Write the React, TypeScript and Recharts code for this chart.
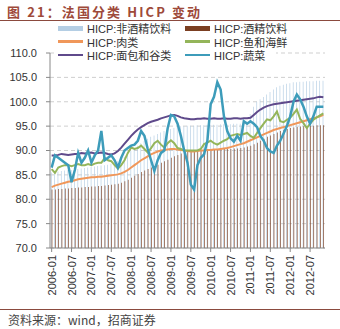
import React from "react";
import { ComposedChart, Bar, Line, XAxis, YAxis, CartesianGrid } from "recharts";

const years = ["2006", "2007", "2008", "2009", "2010", "2011", "2012"];
const monthNames = ["01", "02", "03", "04", "05", "06", "07", "08", "09", "10", "11", "12"];
const categories: string[] = [];
years.forEach((y) => monthNames.forEach((m) => categories.push(`${y}-${m}`)));
categories.splice(83);

const nonAlcoholic = [
  85.5, 85.6, 85.7, 85.8, 85.9, 86, 86, 86.1, 86.2, 86.3, 86.4, 86.5,
  86.6, 86.7, 86.8, 86.9, 87, 87.1, 87.3, 87.5, 87.8, 88.2, 88.7, 89.3,
  89.9, 90.5, 91, 91.5, 92, 92.4, 92.8, 93.1, 93.4, 93.7, 94, 94.2,
  94.4, 94.6, 94.8, 95, 95, 95.1, 95.1, 95.1, 95.2, 95.2, 95.2, 95.3,
  95.3, 95.3, 95.3, 95.4, 95.4, 95.4, 95.4, 95.5, 95.5, 95.5, 95.5, 96,
  97.5, 99, 100, 100.5, 101, 101.5, 102, 102.5, 103, 103.3, 103.5, 103.7,
  103.8, 104, 104, 104.1, 104.1, 104.2, 104.2, 104.2, 104.3, 104.3, 104.3,
];
const alcoholic = [
  82.0, 82.0, 82.1, 82.1, 82.2, 82.2, 82.3, 82.3, 82.4, 82.4, 82.5, 82.5,
  82.6, 82.6, 82.7, 82.7, 82.8, 82.9, 83, 83.1, 83.2, 83.4, 83.7, 84,
  84.4, 84.8, 85.2, 85.6, 85.9, 86.2, 86.5, 86.8, 87.1, 87.5, 87.8, 88.1,
  88.5, 88.8, 89.1, 89.4, 89.6, 89.8, 89.9, 90, 90, 90, 90.1, 90.1,
  90.1, 90.2, 90.2, 90.2, 90.3, 90.3, 90.3, 90.4, 90.4, 90.5, 90.6, 90.8,
  91, 91.3, 91.6, 92, 92.4, 92.8, 93.1, 93.4, 93.7, 94, 94.2, 94.4,
  94.6, 94.7, 94.8, 94.9, 95, 95, 95.1, 95.1, 95.2, 95.2, 95.2,
];
const meat = [
  82.5, 82.8, 83, 83.2, 83.4, 83.6, 83.7, 83.9, 84.1, 84.2, 84.3, 84.4,
  84.5, 84.5, 84.6, 84.6, 84.7, 84.8, 84.9, 85, 85.1, 85.3, 85.6, 86,
  86.5, 87, 87.5, 88, 88.4, 88.8, 89.2, 89.5, 89.8, 90, 90.1, 90.2,
  90.3, 90.3, 90.2, 90.1, 90, 89.9, 89.8, 89.8, 89.9, 90, 90, 90.1,
  90.1, 90.2, 90.2, 90.3, 90.4, 90.5, 90.7, 90.9, 91.1, 91.3, 91.5, 91.8,
  92.1, 92.4, 92.7, 93, 93.3, 93.6, 93.9, 94.2, 94.4, 94.6, 94.8, 95,
  95.2, 95.4, 95.6, 95.8, 96, 96.2, 96.4, 96.6, 96.8, 97, 97.3,
];
const fish = [
  86.2, 85.4, 86.5, 86.8, 87, 87, 86.8, 87, 87.2, 87, 87, 87.2,
  87, 87.3, 87.5, 87.5, 88.5, 88, 87.8, 87, 86.3, 87, 88, 89.5,
  90.6, 90.3, 90.5, 91, 90.3, 89.6, 90.5, 91.5, 92, 91.2, 90.6, 91.5,
  92.1, 91.5, 90.5, 90.3, 90, 90, 90, 90, 90, 90.3, 91.3, 91.6,
  92, 91.5, 91.2, 91.6, 92, 92.3, 93, 93.2, 93.4, 93.2, 93.4, 93.6,
  93, 92.6, 93.6, 94.6, 95.5, 96.4, 96.2, 97, 98, 96, 95.8, 96.3,
  96.7, 97.5, 98.4, 96.5, 95.6, 94.6, 95.5, 96.3, 96.8, 97.2, 97.6,
];
const bread = [
  89, 89, 89.1, 89.3, 89.2, 89.1, 89.2, 89.3, 89.3, 89.5, 89.4, 89.5,
  89.6, 89.4, 89.5, 89.6, 89.5, 89.3, 89.2, 89.4, 89.9, 90.6, 91.4, 92.2,
  93, 93.7, 94.3, 94.8, 95.2, 95.6, 95.9, 96.1, 96.3, 96.6, 96.8, 97,
  97.2, 97.3, 97.1, 96.8, 96.6, 96.5, 96.4, 96.4, 96.5, 96.5, 96.6, 96.5,
  96.5, 96.6, 96.5, 96.5, 96.6, 96.5, 96.5, 96.6, 96.6, 96.5, 96.6, 96.6,
  96.7, 97.3, 97.9, 98.4, 98.8, 99.1, 99.3, 99.5, 99.6, 99.7, 99.8, 99.9,
  100, 100.1, 100.2, 100.3, 100.4, 100.5, 100.6, 100.7, 100.9, 101, 100.9,
];
const vegetables = [
  86.5, 89, 88.5, 88, 87.5, 87, 83.5, 86, 89.5, 87.5, 88.5, 90,
  87.5, 89, 90, 94, 88, 88.5, 89, 88, 86.5, 88.5, 90, 90.5,
  91, 91.2, 92, 94, 93, 90.3, 88, 85.8, 88, 89.5, 90, 94.5,
  97.3, 97, 95.5, 93, 90, 87.5, 83, 82, 87, 88.5, 89.2, 92,
  99.5, 101, 104, 102.5, 97, 94, 92.5, 91.8, 93, 92, 96, 95.5,
  96, 95.5, 94.8, 93, 92, 90.5, 89.8, 89.5, 91, 92, 93.5, 95,
  97, 100, 101.5, 100.5, 99, 97, 95.5, 97, 99, 99, 99,
];
const yTicks = [70, 75, 80, 85, 90, 95, 100, 105, 110];

const data = categories.map((c, i) => ({
  date: c,
  nonAlc: nonAlcoholic[i],
  alc: alcoholic[i],
  meat: meat[i],
  fish: fish[i],
  bread: bread[i],
  veg: vegetables[i],
}));

const C_NONALC = "#b4cee4";
const C_ALC = "#7b3f22";
const C_MEAT = "#f0975a";
const C_FISH = "#94b55a";
const C_BREAD = "#5f4a8b";
const C_VEG = "#3d9cba";

const FONT = "'Liberation Sans', 'Noto Sans CJK SC', sans-serif";

const XTick = (props: any) => {
  const { x, y, payload } = props;
  return (
    <g transform={`translate(${x},${y})`}>
      <text
        transform="rotate(-90)"
        x={0}
        y={0}
        dx={-1}
        dy={4}
        textAnchor="end"
        fontSize={11}
        fill="#333"
        fontFamily={FONT}
      >
        {payload.value}
      </text>
    </g>
  );
};

const legendItems = [
  { label: "HICP:非酒精饮料", color: C_NONALC, kind: "bar", col: 0, row: 0 },
  { label: "HICP:酒精饮料", color: C_ALC, kind: "bar", col: 1, row: 0 },
  { label: "HICP:肉类", color: C_MEAT, kind: "line", col: 0, row: 1 },
  { label: "HICP:鱼和海鲜", color: C_FISH, kind: "line", col: 1, row: 1 },
  { label: "HICP:面包和谷类", color: C_BREAD, kind: "line", col: 0, row: 2 },
  { label: "HICP:蔬菜", color: C_VEG, kind: "line", col: 1, row: 2 },
];

export default function App() {
  return (
    <div
      style={{
        position: "absolute",
        left: 0,
        top: 0,
        width: 340,
        height: 329,
        background: "#fff",
        overflow: "hidden",
        fontFamily: FONT,
      }}
    >
      <div
        style={{
          position: "absolute",
          left: 7,
          top: 3,
          fontSize: 13,
          fontWeight: "bold",
          color: "#9e4a3a",
          letterSpacing: 2.1,
          fontFamily: "'Noto Sans CJK SC', sans-serif",
          whiteSpace: "nowrap",
          lineHeight: "18px",
        }}
      >
        图 21：法国分类 HICP 变动
      </div>
      <div style={{ position: "absolute", left: 0, top: 20, width: 340, height: 1, background: "#8b4a3e" }} />
      <ComposedChart
        width={340}
        height={329}
        data={data}
        margin={{ top: 53, right: 15, bottom: 31, left: 0 }}
        barCategoryGap="30%"
        barGap={0}
        style={{ position: "absolute", left: 0, top: 0 }}
      >
        <CartesianGrid horizontal vertical={false} stroke="#cfcfcf" strokeDasharray="4 3" />
        <XAxis
          dataKey="date"
          interval={5}
          height={50}
          tick={<XTick />}
          tickSize={4}
          stroke="#888"
          tickLine={{ stroke: "#888" }}
        />
        <YAxis
          domain={[70, 110]}
          ticks={yTicks}
          width={50}
          tickSize={4}
          tickMargin={9}
          tickFormatter={(v: number) => v.toFixed(1)}
          tick={{ fontSize: 11, fill: "#333", fontFamily: FONT }}
          stroke="#888"
          interval={0}
          allowDataOverflow
        />
        <Bar dataKey="nonAlc" fill={C_NONALC} isAnimationActive={false} />
        <Bar dataKey="alc" fill={C_ALC} isAnimationActive={false} />
        <Line dataKey="meat" stroke={C_MEAT} strokeWidth={2} dot={false} isAnimationActive={false} />
        <Line dataKey="fish" stroke={C_FISH} strokeWidth={2} dot={false} isAnimationActive={false} />
        <Line dataKey="bread" stroke={C_BREAD} strokeWidth={2} dot={false} isAnimationActive={false} />
        <Line dataKey="veg" stroke={C_VEG} strokeWidth={2.5} dot={false} isAnimationActive={false} />
      </ComposedChart>
      <div
        style={{
          position: "absolute",
          left: 54,
          top: 21,
          width: 222,
          height: 41,
          background: "#fff",
        }}
      >
        {legendItems.map((it) => (
          <div
            key={it.label}
            style={{
              position: "absolute",
              left: it.col === 0 ? 4 : 131,
              top: it.row * 13.5,
              height: 14,
              display: "flex",
              alignItems: "center",
              whiteSpace: "nowrap",
              fontSize: 11,
              color: "#333",
            }}
          >
            <span
              style={{
                display: "inline-block",
                width: 25,
                height: it.kind === "bar" ? 5 : 2.5,
                background: it.color,
                marginRight: 4,
              }}
            />
            {it.label}
          </div>
        ))}
      </div>
      <div style={{ position: "absolute", left: 0, top: 309, width: 340, height: 1, background: "#8b4a3e" }} />
      <div
        style={{
          position: "absolute",
          left: 8,
          top: 312,
          fontSize: 12,
          color: "#444",
          whiteSpace: "nowrap",
          lineHeight: "16px",
          fontFamily: "'Noto Sans CJK SC', sans-serif",
        }}
      >
        资料来源：wind，招商证券
      </div>
    </div>
  );
}
